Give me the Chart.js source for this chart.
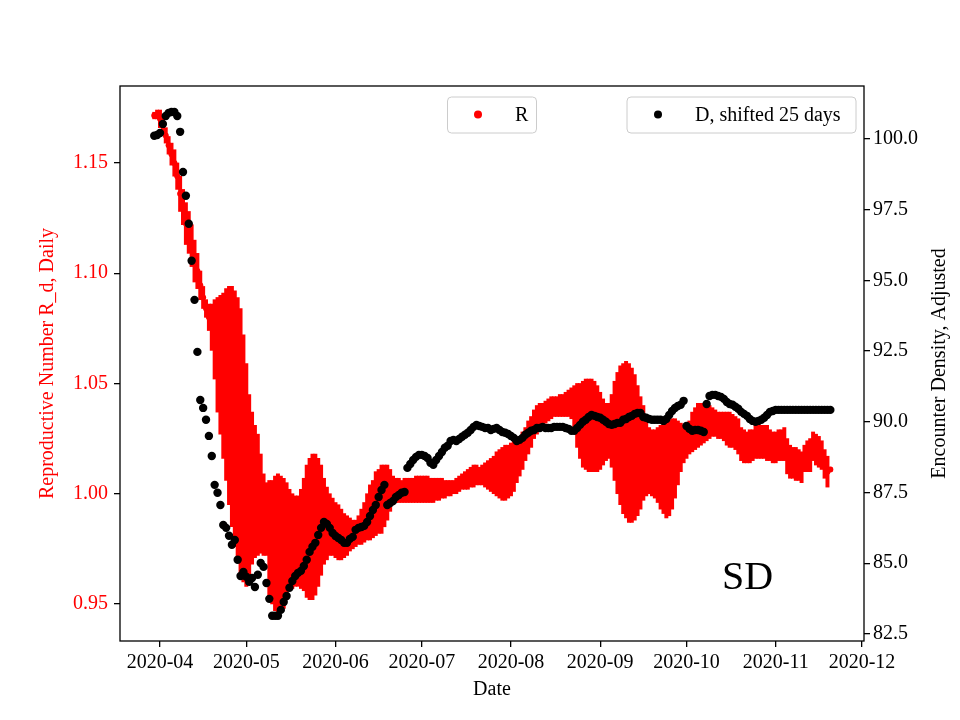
<!DOCTYPE html>
<html>
<head>
<meta charset="UTF-8">
<title>R vs encounter density - SD</title>
<script src="https://cdn.jsdelivr.net/npm/chart.js@4"></script>
<style>
  body { margin: 0; background: #fff; }
  #wrap { width: 960px; height: 720px; }
</style>
</head>
<body>
<div id="wrap"><canvas id="chart" width="960" height="720"></canvas></div>
<script>
// days are counted from 2020-04-01, first value is 2020-03-30
const startDay = -2;

// reproductive number, upper and lower end of each daily bar
const rHigh = [
  1.173, 1.174, 1.174, 1.171, 1.166, 1.162, 1.159, 1.156, 1.150, 1.144,
  1.138, 1.132, 1.128, 1.122, 1.115, 1.109, 1.101, 1.094, 1.088, 1.086,
  1.086, 1.088, 1.089, 1.090, 1.091, 1.093, 1.094, 1.094, 1.092, 1.089,
  1.084, 1.072, 1.059, 1.045, 1.037, 1.031, 1.027, 1.018, 1.009, 1.005,
  1.006, 1.006, 1.008, 1.009, 1.008, 1.007, 1.005, 1.002, 1.000, 0.999,
  0.999, 1.002, 1.007, 1.013, 1.016, 1.018, 1.018, 1.016, 1.013, 1.007,
  1.003, 1.000, 0.998, 0.996, 0.995, 0.993, 0.991, 0.990, 0.989, 0.988,
  0.988, 0.990, 0.993, 0.996, 1.000, 1.004, 1.006, 1.010, 1.011, 1.013,
  1.013, 1.013, 1.011, 1.008, 1.007, 1.007, 1.006, 1.007, 1.007, 1.007,
  1.007, 1.008, 1.008, 1.008, 1.008, 1.008, 1.007, 1.007, 1.007, 1.007,
  1.007, 1.006, 1.006, 1.006, 1.006, 1.007, 1.008, 1.009, 1.010, 1.011,
  1.012, 1.013, 1.013, 1.012, 1.013, 1.014, 1.015, 1.016, 1.017, 1.019,
  1.020, 1.021, 1.022, 1.022, 1.023, 1.024, 1.025, 1.026, 1.028, 1.030,
  1.033, 1.035, 1.038, 1.040, 1.041, 1.041, 1.042, 1.043, 1.044, 1.044,
  1.044, 1.045, 1.045, 1.046, 1.047, 1.048, 1.049, 1.050, 1.050, 1.051,
  1.052, 1.052, 1.052, 1.051, 1.049, 1.046, 1.043, 1.041, 1.041, 1.045,
  1.051, 1.055, 1.058, 1.059, 1.060, 1.059, 1.057, 1.054, 1.049, 1.044,
  1.040, 1.034, 1.030, 1.029, 1.029, 1.030, 1.031, 1.032, 1.032, 1.033,
  1.034, 1.034, 1.033, 1.032, 1.031, 1.031, 1.033, 1.037, 1.039, 1.041,
  1.041, 1.041, 1.041, 1.040, 1.039, 1.038, 1.037, 1.037, 1.037, 1.037,
  1.037, 1.036, 1.035, 1.034, 1.030, 1.029, 1.028, 1.029, 1.029, 1.031,
  1.032, 1.031, 1.031, 1.031, 1.029, 1.028, 1.028, 1.029, 1.029, 1.030,
  1.025, 1.022, 1.021, 1.021, 1.020, 1.019, 1.022, 1.024, 1.025, 1.028,
  1.027, 1.026, 1.024, 1.020, 1.017, 1.012
];
const rLow = [
  1.170, 1.170, 1.166, 1.164, 1.159, 1.154, 1.149, 1.144, 1.138, 1.128,
  1.122, 1.113, 1.109, 1.103, 1.096, 1.093, 1.088, 1.084, 1.080, 1.074,
  1.065, 1.052, 1.037, 1.027, 1.016, 1.006, 0.995, 0.985, 0.976, 0.969,
  0.964, 0.960, 0.958, 0.963, 0.968, 0.971, 0.972, 0.973, 0.972, 0.972,
  0.953, 0.950, 0.947, 0.946, 0.947, 0.948, 0.952, 0.956, 0.957, 0.958,
  0.958, 0.957, 0.956, 0.953, 0.952, 0.952, 0.954, 0.958, 0.963, 0.968,
  0.970, 0.972, 0.972, 0.971, 0.970, 0.970, 0.971, 0.972, 0.974, 0.975,
  0.976, 0.977, 0.977, 0.978, 0.979, 0.979, 0.980, 0.981, 0.982, 0.982,
  0.985, 0.988, 0.992, 0.995, 0.996, 0.996, 0.996, 0.996, 0.996, 0.996,
  0.996, 0.996, 0.996, 0.996, 0.996, 0.996, 0.996, 0.996, 0.997, 0.997,
  0.998, 0.998, 0.999, 0.999, 1.000, 1.000, 1.001, 1.002, 1.002, 1.002,
  1.003, 1.003, 1.004, 1.004, 1.004, 1.003, 1.002, 1.001, 1.000, 0.999,
  0.998, 0.997, 0.997, 0.998, 0.999, 1.001, 1.005, 1.008, 1.011, 1.015,
  1.018, 1.021, 1.025, 1.027, 1.029, 1.031, 1.032, 1.033, 1.034, 1.035,
  1.035, 1.035, 1.035, 1.035, 1.035, 1.034, 1.029, 1.021, 1.016, 1.012,
  1.011, 1.010, 1.010, 1.010, 1.010, 1.011, 1.013, 1.015, 1.016, 1.012,
  1.006, 1.000, 0.995, 0.991, 0.989, 0.987, 0.987, 0.988, 0.990, 0.993,
  0.997, 0.999, 1.000, 0.999, 0.998, 0.996, 0.993, 0.991, 0.989, 0.990,
  0.993, 0.998, 1.004, 1.010, 1.014, 1.016, 1.018, 1.019, 1.020, 1.021,
  1.022, 1.023, 1.024, 1.025, 1.026, 1.026, 1.025, 1.025, 1.024, 1.022,
  1.021, 1.021, 1.020, 1.018, 1.015, 1.014, 1.014, 1.014, 1.015, 1.016,
  1.016, 1.016, 1.016, 1.015, 1.015, 1.014, 1.014, 1.015, 1.015, 1.015,
  1.009, 1.007, 1.007, 1.006, 1.006, 1.005, 1.010, 1.010, 1.010, 1.015,
  1.013, 1.012, 1.011, 1.007, 1.003, 1.010
];

// encounter density, shifted 25 days
const dShifted = [
  100.11, 100.14, 100.21, 100.53, 100.81, 100.92, 100.95, 100.95, 100.81, 100.25,
  98.83, 97.99, 97.00, 95.69, 94.31, 92.47, 90.77, 90.49, 90.07, 89.50,
  88.79, 87.77, 87.49, 87.06, 86.35, 86.25, 85.97, 85.65, 85.82, 85.12,
  84.55, 84.69, 84.52, 84.34, 84.48, 84.16, 84.59, 85.01, 84.87, 84.30,
  83.74, 83.14, 83.14, 83.14, 83.35, 83.63, 83.84, 84.13, 84.37, 84.55,
  84.66, 84.73, 84.90, 85.12, 85.40, 85.58, 85.72, 86.00, 86.25, 86.46,
  86.39, 86.25, 86.07, 85.96, 85.89, 85.82, 85.72, 85.72, 85.86, 85.93,
  86.18, 86.25, 86.28, 86.32, 86.46, 86.67, 86.88, 87.06, 87.34, 87.59,
  87.77, 87.06, 87.13, 87.20, 87.34, 87.41, 87.49, 87.52, 88.37, 88.51,
  88.65, 88.76, 88.83, 88.83, 88.79, 88.72, 88.55, 88.48, 88.65, 88.79,
  88.93, 89.08, 89.15, 89.32, 89.36, 89.32, 89.39, 89.47, 89.54, 89.61,
  89.71, 89.82, 89.89, 89.85, 89.82, 89.78, 89.78, 89.71, 89.75, 89.78,
  89.71, 89.64, 89.61, 89.57, 89.50, 89.43, 89.32, 89.36, 89.43, 89.54,
  89.61, 89.68, 89.71, 89.78, 89.78, 89.82, 89.78, 89.78, 89.78, 89.82,
  89.82, 89.82, 89.82, 89.78, 89.75, 89.68, 89.68, 89.78, 89.89, 90.00,
  90.07, 90.17, 90.24, 90.21, 90.17, 90.14, 90.07, 90.00, 89.92, 89.89,
  89.92, 89.96, 89.96, 90.07, 90.10, 90.17, 90.21, 90.28, 90.31, 90.31,
  90.17, 90.14, 90.10, 90.07, 90.07, 90.07, 90.07, 90.03, 90.10, 90.24,
  90.38, 90.49, 90.56, 90.60, 90.74, 89.85, 89.75, 89.68, 89.71, 89.71,
  89.68, 89.64, 90.63, 90.91, 90.95, 90.95, 90.91, 90.88, 90.81, 90.70,
  90.63, 90.60, 90.53, 90.46, 90.35, 90.28, 90.21, 90.10, 90.03, 90.00,
  90.03, 90.07, 90.14, 90.24, 90.35, 90.38, 90.42, 90.42, 90.42, 90.42,
  90.42, 90.42, 90.42, 90.42, 90.42, 90.42, 90.42, 90.42, 90.42, 90.42,
  90.42, 90.42, 90.42, 90.42, 90.42, 90.42
];

const monthDays = [0, 30, 61, 91, 122, 153, 183, 214, 244];
const monthLabels = ['2020-04', '2020-05', '2020-06', '2020-07', '2020-08', '2020-09', '2020-10', '2020-11', '2020-12'];
const rTicks = [0.95, 1.00, 1.05, 1.10, 1.15];
const dTicks = [82.5, 85.0, 87.5, 90.0, 92.5, 95.0, 97.5, 100.0];

const serif = "'Liberation Serif', 'Times New Roman', serif";
const font20 = { family: serif, size: 20 };

function roundRect(ctx, x, y, w, h, r) {
  ctx.beginPath();
  ctx.moveTo(x + r, y);
  ctx.arcTo(x + w, y, x + w, y + h, r);
  ctx.arcTo(x + w, y + h, x, y + h, r);
  ctx.arcTo(x, y + h, x, y, r);
  ctx.arcTo(x, y, x + w, y, r);
  ctx.closePath();
}

// frame, legends, right axis title and the "SD" tag
const extras = {
  id: 'extras',
  afterDraw(chart) {
    const ctx = chart.ctx;
    const a = chart.chartArea;
    ctx.save();
    ctx.strokeStyle = '#000';
    ctx.lineWidth = 1.3;
    ctx.strokeRect(a.left, a.top, a.right - a.left, a.bottom - a.top);

    const boxes = [
      { x: 447.5, w: 89, color: 'red', dotX: 478, textX: 515, text: 'R' },
      { x: 627, w: 229, color: '#000', dotX: 658, textX: 695, text: 'D, shifted 25 days' }
    ];
    ctx.font = '20px ' + serif;
    ctx.textBaseline = 'middle';
    ctx.textAlign = 'left';
    boxes.forEach(b => {
      roundRect(ctx, b.x, 97, b.w, 36, 4);
      ctx.fillStyle = 'rgba(255,255,255,0.8)';
      ctx.fill();
      ctx.strokeStyle = '#cccccc';
      ctx.lineWidth = 1;
      ctx.stroke();
      ctx.beginPath();
      ctx.arc(b.dotX, 114.5, 4, 0, Math.PI * 2);
      ctx.fillStyle = b.color;
      ctx.fill();
      ctx.fillStyle = '#000';
      ctx.fillText(b.text, b.textX, 115.5);
    });

    ctx.save();
    ctx.translate(940, (a.top + a.bottom) / 2);
    ctx.rotate(-Math.PI / 2);
    ctx.textAlign = 'center';
    ctx.fillText('Encounter Density, Adjusted', 0, 0);
    ctx.restore();

    ctx.font = '40px ' + serif;
    ctx.textBaseline = 'alphabetic';
    ctx.fillText('SD', 722, 589);
    ctx.restore();
  }
};

new Chart(document.getElementById('chart'), {
  type: 'scatter',
  data: {
    datasets: [
      {
        type: 'scatter',
        label: 'D, shifted 25 days',
        data: dShifted.map((v, i) => ({ x: startDay + i, y: v })),
        yAxisID: 'y2',
        pointRadius: 4.2,
        pointBackgroundColor: '#000',
        pointBorderWidth: 0,
        order: 0
      },
      {
        type: 'scatter',
        label: 'R',
        data: rHigh.map((hi, i) => ({ x: startDay + i, y: (hi + rLow[i]) / 2 })),
        yAxisID: 'y',
        pointRadius: 3,
        pointBackgroundColor: 'red',
        pointBorderWidth: 0,
        order: 1
      },
      {
        type: 'bar',
        label: 'R range',
        data: rHigh.map((hi, i) => ({ x: startDay + i, y: [rLow[i], hi] })),
        yAxisID: 'y',
        backgroundColor: 'red',
        borderWidth: 0,
        barThickness: 3.3,
        order: 2
      }
    ]
  },
  options: {
    responsive: false,
    animation: false,
    devicePixelRatio: 1,
    events: [],
    layout: { padding: { top: 86, left: 0, right: 0, bottom: 0 } },
    plugins: { legend: { display: false }, tooltip: { enabled: false } },
    scales: {
      x: {
        type: 'linear',
        min: -13.9,
        max: 244.7,
        offset: false,
        border: { display: false },
        grid: { offset: false, drawOnChartArea: false, tickLength: 6, color: '#000', lineWidth: 1.3 },
        ticks: {
          font: font20, color: '#000', padding: 4, maxRotation: 0, autoSkip: false,
          callback: v => monthLabels[monthDays.indexOf(v)]
        },
        afterBuildTicks: s => { s.ticks = monthDays.map(v => ({ value: v })); },
        afterFit: s => { s.height = 79; },
        title: { display: true, text: 'Date', font: font20, color: '#000', padding: { top: 0, bottom: 18 } }
      },
      y: {
        position: 'left',
        min: 0.9332,
        max: 1.1849,
        beginAtZero: false,
        border: { display: false },
        grid: { drawOnChartArea: false, tickLength: 6, color: '#000', lineWidth: 1.3 },
        ticks: { font: font20, color: 'red', padding: 6, callback: v => v.toFixed(2) },
        afterBuildTicks: s => { s.ticks = rTicks.map(v => ({ value: v })); },
        afterFit: s => { s.width = 120; },
        title: { display: true, text: 'Reproductive Number R_d, Daily', font: font20, color: 'red', padding: { top: 36, bottom: 0 } }
      },
      y2: {
        position: 'right',
        min: 82.25,
        max: 101.87,
        border: { display: false },
        grid: { drawOnChartArea: false, tickLength: 6, color: '#000', lineWidth: 1.3 },
        ticks: { font: font20, color: '#000', padding: 3, callback: v => v.toFixed(1) },
        afterBuildTicks: s => { s.ticks = dTicks.map(v => ({ value: v })); },
        afterFit: s => { s.width = 96; }
      }
    }
  },
  plugins: [extras]
});
</script>
</body>
</html>
